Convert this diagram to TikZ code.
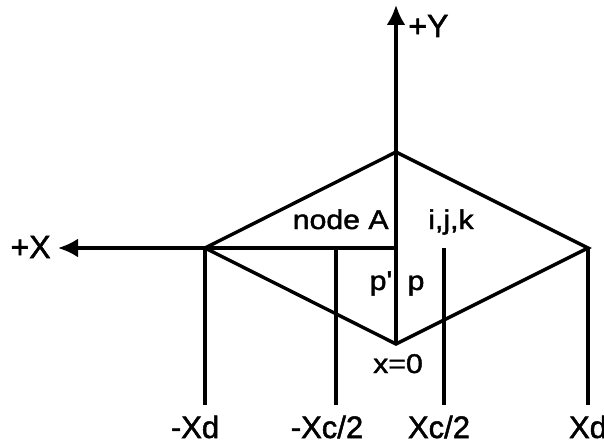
\documentclass[tikz,border=0pt]{standalone}
\usepackage{fontspec}
\setmainfont{Liberation Sans}[FakeBold=1.6]
\newfontfamily\widefont{Liberation Sans}[FakeBold=1.6, FakeStretch=1.12]
\usetikzlibrary{positioning,arrows.meta}

\begin{document}
\begin{tikzpicture}[
  x=0.5pt, y=-0.5pt,
  edge/.style={draw=black, line width=1.7pt, line join=miter},
  axis/.style={edge, -{Latex[length=10pt, width=9.5pt]}},
  % vertical markers hang below the X axis, stopping short of their labels
  tick/.style={edge, shorten >=4pt},
  blbl/.style={font=\fontsize{15.5}{17}\selectfont, inner sep=1pt, anchor=base},
  ilbl/.style={font=\widefont\fontsize{13.5}{15}\selectfont, inner sep=1pt, anchor=base}
]
\useasboundingbox (0,0) rectangle (604,444);

% ══ diamond corners and axis ends ══════════════════════════════════════════
\coordinate (top)    at (396,152);
\coordinate (left)   at (205,248);
\coordinate (right)  at (588,248);
\coordinate (bot)    at (396,344);
\coordinate (origin) at (396,248);
\coordinate (ytip)   at (396,5);
\coordinate (xtip)   at (58,248);
\coordinate (xcl)    at (336,248);
\coordinate (xcr)    at (444,248);

% ══ axes ═══════════════════════════════════════════════════════════════════
\draw[axis] (bot) -- (ytip);
\draw[axis] (origin) -- (xtip);
\node[blbl, font=\fontsize{16}{18}\selectfont, anchor=base west] (ylab) at (406,37) {+Y};
\node[blbl, font=\fontsize{16}{18}\selectfont, anchor=base east] (xlab) at (53,258) {+X};

% ══ the diamond ════════════════════════════════════════════════════════════
\draw[edge] (left) -- (top) -- (right) -- (bot) -- cycle;

% ══ labels inside ══════════════════════════════════════════════════════════
\node[ilbl, anchor=base east] (nodeA) at (391,229) {node A};
\node[ilbl] (ijk)   at (451,229) {i,j,k};
\node[ilbl] (pp)    at (381,290) {p'};
\node[ilbl] (p)     at (416,290) {p};
\node[ilbl] (xzero) at (398,373) {x=0};

% ══ bottom labels and their markers ════════════════════════════════════════
\node[blbl] (mxd)  at (195,438) {-Xd};
\node[blbl] (mxc)  at (327,438) {-Xc/2};
\node[blbl] (pxc)  at (439,438) {Xc/2};
\node[blbl] (pxd)  at (588,438) {Xd};

\draw[tick] (left)  -- (left |- mxd.north);
\draw[tick] (xcl)   -- (xcl |- mxc.north);
\draw[tick] (xcr)   -- (xcr |- pxc.north);
\draw[tick] (right) -- (right |- pxd.north);

\end{tikzpicture}
\end{document}
